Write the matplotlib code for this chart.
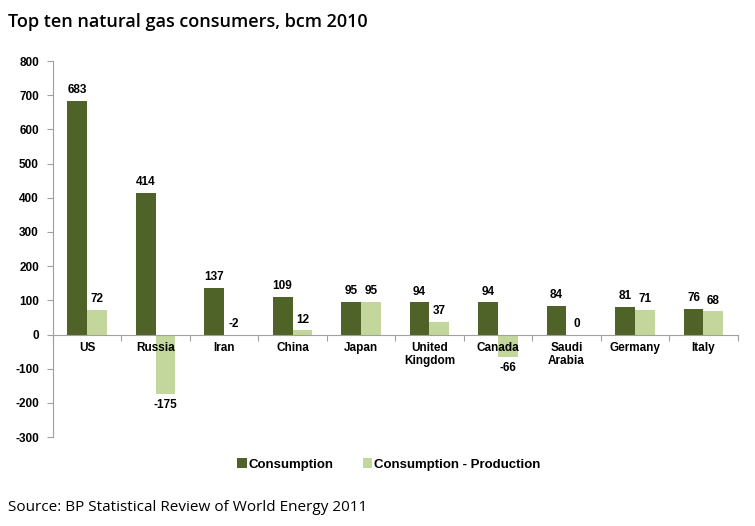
import numpy as np
import matplotlib.pyplot as plt

plt.rcParams['axes.unicode_minus'] = False

countries = ['US', 'Russia', 'Iran', 'China', 'Japan', 'United\nKingdom',
             'Canada', 'Saudi\nArabia', 'Germany', 'Italy']
consumption = [683, 414, 137, 109, 95, 94, 94, 84, 81, 76]
net_imports = [72, -175, -2, 12, 95, 37, -66, 0, 71, 68]

dark = '#4F6228'
light = '#C3D69B'

fig = plt.figure(figsize=(7.55, 5.26), dpi=100)
ax = fig.add_axes([0.070, 0.169, 0.907, 0.715])

x = np.arange(len(countries))
w = 0.29
ax.bar(x - w / 2, consumption, w, color=dark, label='Consumption')
ax.bar(x + w / 2, net_imports, w, color=light, label='Consumption - Production')

lab = dict(ha='center', fontsize=8.5, fontweight='bold', family='Liberation Sans')
for i, v in enumerate(consumption):
    ax.text(x[i] - w / 2, v + 14, str(v), va='bottom', **lab)
for i, v in enumerate(net_imports):
    if v < -10:
        ax.text(x[i] + w / 2, v - 14, str(v), va='top', **lab)
    else:
        ax.text(x[i] + w / 2, max(v, 0) + 14, str(v), va='bottom', **lab)

ax.set_xlim(-0.5, len(countries) - 0.5)
ax.set_ylim(-300, 800)
ax.set_yticks(range(-300, 801, 100))
for t in ax.get_yticklabels():
    t.set_fontweight('bold')
    t.set_family('Liberation Sans')
    t.set_fontsize(8.5)

ax.spines['top'].set_visible(False)
ax.spines['right'].set_visible(False)
ax.spines['bottom'].set_position(('data', 0))
for s in ['left', 'bottom']:
    ax.spines[s].set_color('#A0A0A0')
ax.tick_params(axis='y', length=4, color='#A0A0A0', pad=6)

ax.set_xticks(np.arange(len(countries) + 1) - 0.5)
ax.set_xticklabels([])
ax.tick_params(axis='x', length=4, color='#A0A0A0')
for i, c in enumerate(countries):
    ax.text(x[i], -22, c, ha='center', va='top', fontsize=8.5,
            fontweight='bold', family='Liberation Sans', linespacing=1.15)

fig.legend(loc='center', bbox_to_anchor=(0.515, 0.117), ncol=2, frameon=False,
           handlelength=0.7, handleheight=0.7, handletextpad=0.15, columnspacing=2.2,
           prop={'family': 'Liberation Sans', 'weight': 'bold', 'size': 9.5})

fig.text(0.011, 0.958, 'Top ten natural gas consumers, bcm 2010', fontsize=13,
         fontweight='semibold', family='Open Sans', va='center')
fig.text(0.011, 0.036, 'Source: BP Statistical Review of World Energy 2011', fontsize=11,
         family='Open Sans', va='center')

fig.savefig('out.png', dpi=100)
